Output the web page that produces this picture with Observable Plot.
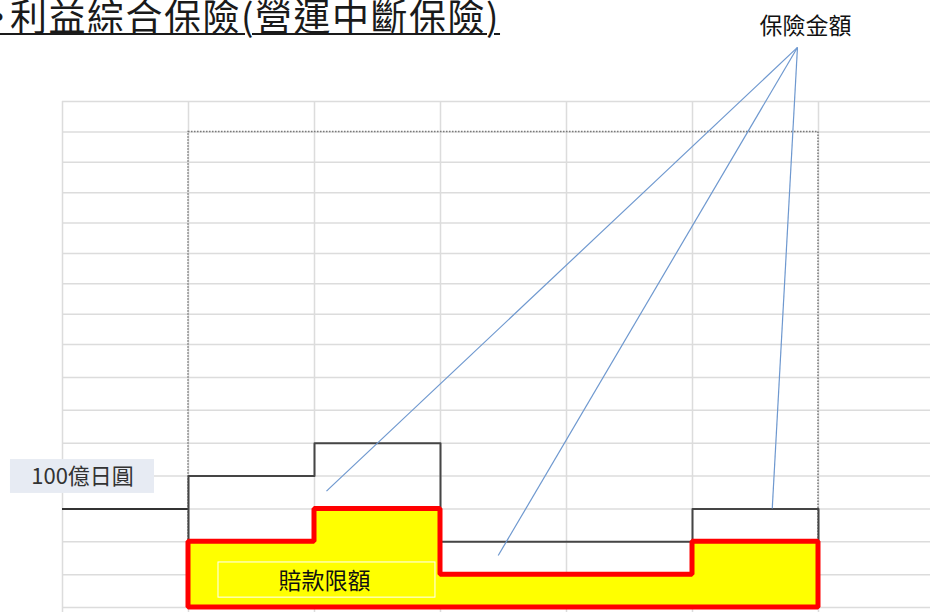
<!DOCTYPE html>
<html><head><meta charset="utf-8">
<script src="https://cdn.jsdelivr.net/npm/d3@7"></script>
<script src="https://cdn.jsdelivr.net/npm/@observablehq/plot@0.6"></script>
<style>
body{margin:0;background:#fff;overflow:hidden}
#wrap{position:relative;width:930px;height:612px;overflow:hidden;background:#fff}
#title{position:absolute;left:-20px;top:-7px;font-family:"Noto Sans CJK TC";font-size:37px;line-height:44px;color:#1a1a1a;white-space:nowrap;letter-spacing:1.5px;text-decoration:underline;text-decoration-thickness:1.5px;text-underline-offset:2px;z-index:2}
#chart svg{display:block}
</style></head><body>
<div id="wrap"><div id="title"><span style="letter-spacing:-7px">・</span>利益綜合保險(營運中斷保險)</div><div id="chart"></div></div>
<script>
// spreadsheet grid (column edges and row lines, in cell units)
const colEdges = [0, 1, 2, 3, 4, 5, 6];
const rowLines = [0, 1, 2, 3, 4, 5, 6, 7, 8, 9, 10, 11, 12, 13, 14, 15, 16];
// periods (columns) and levels (rows)
const periodStart = [1, 2, 3, 5];
const periodEnd   = [2, 3, 5, 6];
const sumInsured  = [4, 5, 2, 3];   // 保險金額
const claimLimit  = [2, 3, 1, 2];   // 賠款限額
const priorLevel  = 3;              // 100億日圓 level line before the period
const frameTop    = 15;
// labels
const labelBase   = "100億日圓";
const labelLimit  = "賠款限額";
const labelSum    = "保險金額";
// annotation anchor and leader targets (cell units)
const leaderFrom  = {x: 5.833, y: 17.78};
const leaderTo    = [{x: 2.095, y: 3.54}, {x: 3.458, y: 1.58}, {x: 5.633, y: 3.01}];

const last = periodEnd.length - 1;
const sumPts = [{x: periodStart[0], y: 0}]
  .concat(periodStart.map((s, i) => ({x: s, y: sumInsured[i]})))
  .concat([{x: periodEnd[last], y: sumInsured[last]}, {x: periodEnd[last], y: 0}]);
const limitPts = periodStart.map((s, i) => ({x: s, y: claimLimit[i]}))
  .concat([{x: periodEnd[last], y: claimLimit[last]}]);
const leaders = leaderTo.map(t => ({x1: leaderFrom.x, y1: leaderFrom.y, x2: t.x, y2: t.y}));
const xMax = 868 / 126;
const font = "Noto Sans CJK TC";
// lower rows are slightly taller than upper rows in the sheet
const rowWarp = r => r <= 8 ? r * 32.875 : 263 + (r - 8) * 30.375;

const chart = Plot.plot({
  width: 930, height: 612, margin: 0,
  style: {background: "#fff", overflow: "visible"},
  x: {domain: [0, xMax], range: [62, 930], axis: null},
  y: {transform: rowWarp, domain: [0, 506], range: [607, 101], axis: null},
  marks: [
    Plot.ruleY(rowLines, {y: d => d, x1: 0, x2: xMax, stroke: "#dcdcdc", strokeWidth: 1.5}),
    Plot.ruleX(colEdges, {x: d => d, y1: 16, y2: -0.2, stroke: "#dcdcdc", strokeWidth: 1.5}),
    Plot.rect([{x1: periodStart[0], x2: periodEnd[last], y1: 0, y2: frameTop}],
      {x1: "x1", x2: "x2", y1: "y1", y2: "y2", fill: "none", stroke: "#7a7a7a", strokeWidth: 1.5, strokeDasharray: "1.5,1.5"}),
    Plot.ruleY([priorLevel], {y: d => d, x1: 0, x2: periodStart[0], stroke: "#333", strokeWidth: 2}),
    Plot.line(sumPts, {x: "x", y: "y", curve: "step-after", stroke: "#454545", strokeWidth: 2}),
    Plot.areaY(limitPts, {x: "x", y: "y", curve: "step-after", fill: "#ffff00", stroke: "#ff0000", strokeWidth: 5, strokeLinejoin: "miter"}),
    Plot.rect([{x1: -0.413, x2: 0.73, y1: 3.47, y2: 4.5}], {x1: "x1", x2: "x2", y1: "y1", y2: "y2", fill: "#e7ebf3"}),
    Plot.text([labelBase], {x: 0.159, y: 3.98, text: d => d, fontSize: 22, fontFamily: font, fill: "#333", textAnchor: "middle"}),
    Plot.rect([{x1: 1.238, x2: 2.96, y1: 0.3, y2: 1.37}], {x1: "x1", x2: "x2", y1: "y1", y2: "y2", fill: "none", stroke: "#fff", strokeWidth: 1}),
    Plot.text([labelLimit], {x: 2.08, y: 0.78, text: d => d, fontSize: 23, fontFamily: font, fill: "#111", textAnchor: "middle"}),
    Plot.text([labelSum], {x: 5.897, y: 18.45, text: d => d, fontSize: 23, fontFamily: font, fill: "#111", textAnchor: "middle"}),
    Plot.link(leaders, {x1: "x1", y1: "y1", x2: "x2", y2: "y2", stroke: "#6e98cf", strokeWidth: 1.2})
  ]
});
document.getElementById("chart").appendChild(chart);
</script>
</body></html>
